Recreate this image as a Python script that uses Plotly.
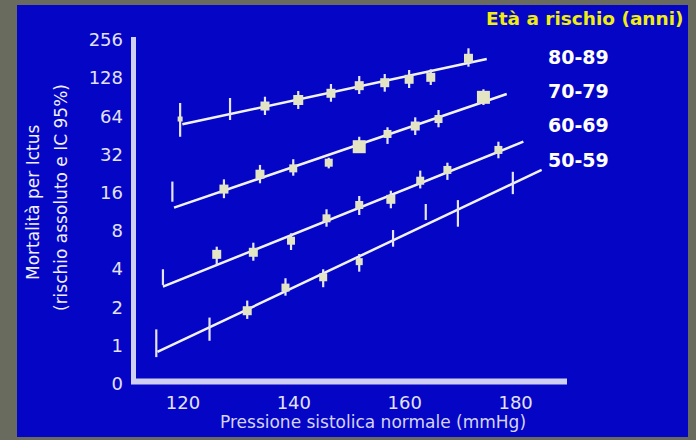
import math
import plotly.graph_objects as go

# Age bands (years)
groups = ["80-89", "70-79", "60-69", "50-59"]

# Usual systolic pressure (mmHg) of each point, per age band
sbp_80 = [119.5, 128.5, 134.8, 140.8, 146.7, 151.8, 156.4, 160.8, 164.7, 171.5]
sbp_70 = [118.1, 127.4, 133.9, 139.9, 146.3, 151.8, 156.9, 161.9, 166.1, 174.2]
sbp_60 = [116.4, 126.1, 132.7, 139.5, 145.9, 151.8, 157.5, 162.8, 167.7, 176.9]
sbp_50 = [115.2, 124.8, 131.6, 138.5, 145.3, 151.8, 157.9, 163.8, 169.6, 179.5]

# Stroke mortality (absolute risk) with 95% CI
rate_80 = [61.0, 68.0, 77.2, 86.1, 97.3, 111.7, 117.9, 125.4, 130.0, 183.6]
lo_80 = [44.2, 59.9, 65.6, 73.2, 83.5, 96.0, 100.2, 107.1, 113.1, 157.6]
hi_80 = [81.6, 89.3, 91.4, 101.4, 115.1, 133.1, 138.1, 148.5, 150.4, 220.1]

rate_70 = [16.3, 17.1, 22.4, 24.9, 27.6, 36.9, 46.5, 53.7, 61.0, 90.4]
lo_70 = [13.6, 14.5, 19.0, 21.8, 24.9, 33.7, 38.8, 45.6, 52.5, 78.6]
hi_70 = [19.6, 20.4, 26.5, 29.4, 30.2, 44.2, 52.5, 62.9, 71.8, 104.6]

rate_60 = [3.47, 5.23, 5.43, 6.70, 10.06, 12.81, 14.2, 19.9, 24.2, 34.8]
lo_60 = [3.0, 4.31, 4.66, 5.66, 8.64, 10.68, 12.07, 17.3, 20.2, 29.9]
hi_60 = [3.99, 6.01, 6.46, 7.66, 11.85, 15.08, 16.6, 23.9, 27.6, 40.4]

rate_50 = [1.05, 1.35, 1.88, 2.86, 3.45, 4.58, 7.0, 11.28, 11.08, 19.2]
lo_50 = [0.81, 1.09, 1.62, 2.47, 2.88, 3.82, 6.01, 9.76, 8.64, 15.6]
hi_50 = [1.34, 1.66, 2.26, 3.39, 3.99, 5.26, 8.13, 13.04, 14.0, 23.4]

# Relative weight of each point (square size); 0 = CI bar only
weight_80 = [5, 0, 9, 10, 9, 9, 9, 9, 9, 9]
weight_70 = [0, 9, 9, 8, 8, 13, 8, 9, 8, 13]
weight_60 = [0, 9, 9, 8, 8, 8, 9, 8, 8, 8]
weight_50 = [0, 0, 9, 8, 8, 7, 0, 0, 0, 0]

# Log-linear fit per age band: start/end pressure and fitted mortality
fit_x_80, fit_y_80 = [119.9, 174.8], [55.4, 181.3]
fit_x_70, fit_y_70 = [118.4, 178.4], [12.2, 96.0]
fit_x_60, fit_y_60 = [116.4, 181.4], [2.91, 40.4]
fit_x_50, fit_y_50 = [115.4, 184.7], [0.889, 24.2]

# Axis ticks
y_tickvals = [0.5, 1, 2, 4, 8, 16, 32, 64, 128, 256]
y_ticktext = ["0", "1", "2", "4", "8", "16", "32", "64", "128", "256"]
x_tickvals = [120, 140, 160, 180]

series = [
    (sbp_80, rate_80, lo_80, hi_80, weight_80, fit_x_80, fit_y_80),
    (sbp_70, rate_70, lo_70, hi_70, weight_70, fit_x_70, fit_y_70),
    (sbp_60, rate_60, lo_60, hi_60, weight_60, fit_x_60, fit_y_60),
    (sbp_50, rate_50, lo_50, hi_50, weight_50, fit_x_50, fit_y_50),
]

W, H = 696, 440
M = dict(l=133, r=129, t=37, b=56)
PW = W - M["l"] - M["r"]
PH = H - M["t"] - M["b"]


def fx(xp):
    """pixel x -> paper x"""
    return (xp - M["l"]) / PW


def fy(yp):
    """pixel y -> paper y"""
    return (H - M["b"] - yp) / PH


BLUE = "#0505c6"
FRAME = "#6a6b5f"
LINE = "#f2f2fa"
BAR = "#e4e4f6"
MARK = "#e2e4c4"
AXIS = "#cfcff3"
FONT = "DejaVu Sans"

fig = go.Figure()

for (x, r, lo, hi, wt, fxv, fyv), name in zip(series, groups):
    fig.add_trace(go.Scatter(
        x=fxv, y=fyv, mode="lines", name=name, showlegend=False,
        line=dict(color=LINE, width=2.5), hoverinfo="skip",
    ))
    fig.add_trace(go.Scatter(
        x=x, y=r, mode="markers", name=name, showlegend=False,
        marker=dict(symbol="square", size=wt, color=MARK, opacity=1,
                    line=dict(width=0)),
        error_y=dict(
            type="data", symmetric=False,
            array=[h - v for h, v in zip(hi, r)],
            arrayminus=[v - l for v, l in zip(r, lo)],
            color=BAR, thickness=2.2, width=0,
        ),
    ))

log2 = math.log10(2)
fig.update_layout(
    width=W, height=H, margin=M,
    paper_bgcolor=FRAME, plot_bgcolor="rgba(0,0,0,0)",
    font=dict(family=FONT, color="#e2e2f6", size=17),
    xaxis=dict(
        range=[111.0, 189.27], tickvals=x_tickvals, showgrid=False,
        zeroline=False, showline=False, ticks="", ticklabelstandoff=6,
        tickfont=dict(size=18, color="#e2e2f6"),
    ),
    yaxis=dict(
        type="log", range=[-1.008 * log2, 8.078 * log2],
        tickvals=y_tickvals, ticktext=y_ticktext, showgrid=False,
        zeroline=False, showline=False, ticks="", ticklabelstandoff=9,
        tickfont=dict(size=18, color="#e2e2f6"),
    ),
    shapes=[
        dict(type="rect", xref="paper", yref="paper", layer="below",
             x0=fx(17), x1=fx(688), y0=fy(437), y1=fy(5),
             fillcolor=BLUE, line=dict(width=0)),
        dict(type="line", xref="paper", yref="paper",
             x0=fx(133.5), x1=fx(133.5), y0=fy(384), y1=fy(37),
             line=dict(color=AXIS, width=5)),
        dict(type="line", xref="paper", yref="paper",
             x0=fx(131), x1=fx(567), y0=fy(381.5), y1=fy(381.5),
             line=dict(color=AXIS, width=6)),
    ],
)

annotations = [
    dict(text="<b>Età a rischio (anni)</b>", x=fx(686), y=fy(19),
         xanchor="right", yanchor="middle",
         font=dict(size=18.5, color="#f0ee10", family=FONT)),
    dict(text="Pressione sistolica normale (mmHg)", x=fx(373), y=fy(422),
         xanchor="center", yanchor="middle",
         font=dict(size=17, color="#d4d4f4", family=FONT)),
    dict(text="Mortalità per Ictus", x=fx(33), y=fy(202), textangle=-90,
         xanchor="center", yanchor="middle",
         font=dict(size=17, color="#f0f0fc", family=FONT)),
    dict(text="(rischio assoluto e IC 95%)", x=fx(61), y=fy(198), textangle=-90,
         xanchor="center", yanchor="middle",
         font=dict(size=17, color="#f0f0fc", family=FONT)),
]
for name, yc in zip(groups, [57, 91, 125, 160]):
    annotations.append(dict(
        text="<b>" + name + "</b>", x=fx(546), y=fy(yc),
        xanchor="left", yanchor="middle",
        font=dict(size=19, color="#ffffff", family=FONT)))

for a in annotations:
    a.update(xref="paper", yref="paper", showarrow=False)
fig.update_layout(annotations=annotations)

fig.write_html("out.html")
